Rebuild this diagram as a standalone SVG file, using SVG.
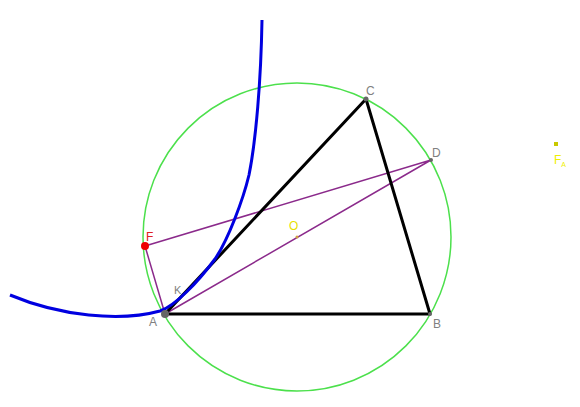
<svg xmlns="http://www.w3.org/2000/svg" width="580" height="407" viewBox="0 0 580 407">
<style>
.lbl{font-family:"Liberation Sans",Arial,sans-serif;font-size:12px;fill:#808080}
.pur{stroke:#8B2A8B;stroke-width:1.5;fill:none}
.blk{stroke:#000;stroke-width:3;fill:none;stroke-linejoin:round}
</style>
<rect width="580" height="407" fill="#fff"/>
<g id="circle"><circle cx="297" cy="237" r="154" fill="none" stroke="#4ce04c" stroke-width="1.5"/></g>
<g id="connectors">
<path class="pur" d="M145,246 L431,160 M165,314 L431,160 M145,246 L165,314"/>
<path class="blk" d="M165,314 L430,314 L366,99 Z"/>
<path d="M10,295 C60,316 120,322 160,311 C175,306 198,282 215,259 C228,240 243,200 249,175 C256,140 261,80 262,20" fill="none" stroke="#0000e0" stroke-width="3"/>
</g>
<g id="A"><circle cx="165" cy="314" r="4" fill="#666"/><text class="lbl" x="149" y="326">A</text></g>
<g id="B"><circle cx="430" cy="314" r="2" fill="#666"/><text class="lbl" x="433" y="328">B</text></g>
<g id="C"><circle cx="366" cy="99" r="2.5" fill="#666"/><text class="lbl" x="366" y="95">C</text></g>
<g id="D"><circle cx="431" cy="160" r="2" fill="#666"/><text class="lbl" x="432" y="157">D</text></g>
<g id="F"><circle cx="145" cy="246" r="4" fill="#e00"/><text class="lbl" x="146" y="241" style="fill:#e02020">F</text></g>
<g id="K"><text class="lbl" x="174" y="294" style="font-size:11px">K</text></g>
<g id="O"><circle cx="297" cy="237" r="1.5" fill="#d0a040"/><text class="lbl" x="289" y="230" style="fill:#e8e000">O</text></g>
<g id="FA"><rect x="554" y="142" width="4" height="4" fill="#c8c800"/><text class="lbl" x="554" y="164" style="fill:#f0f000">F<tspan font-size="7" dy="3">A</tspan></text></g>
</svg>
